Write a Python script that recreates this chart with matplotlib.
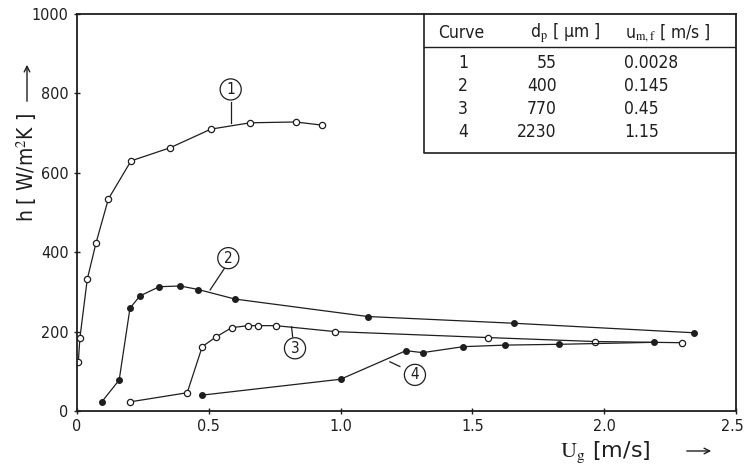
import matplotlib
matplotlib.use('Agg')
import matplotlib.pyplot as plt
from matplotlib.transforms import ScaledTranslation

plt.rcParams['font.family'] = ['DejaVu Sans']
plt.rcParams['font.stretch'] = 'condensed'
plt.rcParams['mathtext.fontset'] = 'stix'

# curve 1: d_p = 55 um (open circles)
ug1 = [0.005, 0.011, 0.039, 0.072, 0.119, 0.205, 0.353, 0.508, 0.657, 0.830, 0.930]
h1 = [124, 184, 332, 423, 534, 630, 663, 710, 726, 728, 720]

# curve 2: d_p = 400 um (filled)
ug2 = [0.094, 0.160, 0.201, 0.239, 0.312, 0.391, 0.460, 0.599, 1.103, 1.658, 2.342]
h2 = [23, 78, 259, 290, 313, 315, 306, 282, 238, 221, 197]

# curve 3: d_p = 770 um (open circles)
ug3 = [0.201, 0.418, 0.475, 0.526, 0.587, 0.650, 0.686, 0.754, 0.979, 1.558, 1.965, 2.294]
h3 = [23, 46, 162, 186, 210, 215, 215, 215, 200, 185, 175, 172]

# curve 4: d_p = 2230 um (filled)
ug4 = [0.475, 1.000, 1.248, 1.311, 1.465, 1.624, 1.830, 2.189]
h4 = [40, 80, 152, 147, 162, 166, 168, 173]

# table
curves = ['1', '2', '3', '4']
dp = ['55', '400', '770', '2230']
umf = ['0.0028', '0.145', '0.45', '1.15']

ink = '#1e1e1e'

fig = plt.figure(figsize=(7.45, 4.67), dpi=100)
ax = fig.add_axes([77/745, 56/467, 659/745, 397/467])

ax.plot(ug1, h1, '-', color=ink, lw=0.9, marker='o', ms=4.5, mfc='white', mec=ink, mew=0.9)
ax.plot(ug2, h2, '-', color=ink, lw=0.9, marker='o', ms=4, mfc=ink, mec=ink)
ax.plot(ug3, h3, '-', color=ink, lw=0.9, marker='o', ms=4.5, mfc='white', mec=ink, mew=0.9)
ax.plot(ug4, h4, '-', color=ink, lw=0.9, marker='o', ms=4, mfc=ink, mec=ink)

ax.set_xlim(0, 2.5)
ax.set_ylim(0, 1000)
ax.set_xticks([0, 0.5, 1.0, 1.5, 2.0, 2.5])
ax.set_xticklabels(['0', '0.5', '1.0', '1.5', '2.0', '2.5'])
ax.set_yticks([0, 200, 400, 600, 800, 1000])
ax.tick_params(direction='inout', length=5, width=1, colors=ink, labelsize=11.5)
for s in ax.spines.values():
    s.set_linewidth(1.3)
    s.set_color(ink)

# last x tick label sits at the right edge of the picture
last = ax.get_xticklabels()[-1]
last.set_horizontalalignment('right')
last.set_transform(last.get_transform() + ScaledTranslation(8/100, 0, fig.dpi_scale_trans))

# circled curve labels with leader lines
circ = dict(boxstyle='circle,pad=0.2', fc='white', ec=ink, lw=0.9)
ax.text(0.583, 810, '1', ha='center', va='center', fontsize=11, color=ink, bbox=circ)
ax.plot([0.583, 0.583], [779, 725], color=ink, lw=0.9)
ax.text(0.574, 385, '2', ha='center', va='center', fontsize=11, color=ink, bbox=circ)
ax.plot([0.559, 0.505], [359, 305], color=ink, lw=0.9)
ax.text(0.827, 158, '3', ha='center', va='center', fontsize=11, color=ink, bbox=circ)
ax.plot([0.814, 0.818], [212, 187], color=ink, lw=0.9)
ax.text(1.282, 91, '4', ha='center', va='center', fontsize=11, color=ink, bbox=circ)
ax.plot([1.225, 1.187], [112, 124], color=ink, lw=0.9)

# table in the upper right corner
tr = ax.transAxes
ax.plot([0.527, 0.527, 1.0], [1.0, 0.651, 0.651], color=ink, lw=1.2, transform=tr, clip_on=False)
ax.plot([0.527, 1.0], [0.917, 0.917], color=ink, lw=1.0, transform=tr)
ax.text(0.548, 0.952, 'Curve', transform=tr, ha='left', va='center', fontsize=12.5, color=ink)
ax.text(0.687, 0.952, r'd$_{\rm p}$ [ μm ]', transform=tr, ha='left', va='center', fontsize=12.5, color=ink)
ax.text(0.832, 0.952, r'u$_{\rm m,f}$ [ m/s ]', transform=tr, ha='left', va='center', fontsize=12.5, color=ink)
for i in range(len(curves)):
    yy = 0.877 - i * 0.058
    ax.text(0.586, yy, curves[i], transform=tr, ha='center', va='center', fontsize=12.5, color=ink)
    ax.text(0.728, yy, dp[i], transform=tr, ha='right', va='center', fontsize=12.5, color=ink)
    ax.text(0.830, yy, umf[i], transform=tr, ha='left', va='center', fontsize=12.5, color=ink)

# axis labels with arrows
fig.text(27/745, 1 - 168/467, 'h [ W/m$^2$K ]', rotation=90, ha='center', va='center', fontsize=15, color=ink)
fig.text(560/745, 1 - 452/467, r'$\mathrm{U}_\mathrm{g}$ [m/s]', ha='left', va='center', fontsize=16,
         fontstretch='normal', color=ink)
ax.annotate('', xy=(27/745, 1 - 62/467), xytext=(27/745, 1 - 104/467), xycoords='figure fraction',
            arrowprops=dict(arrowstyle='->', color=ink, lw=1))
ax.annotate('', xy=(714/745, 1 - 451/467), xytext=(684/745, 1 - 451/467), xycoords='figure fraction',
            arrowprops=dict(arrowstyle='->', color=ink, lw=1))

fig.savefig('out.png', dpi=100)
